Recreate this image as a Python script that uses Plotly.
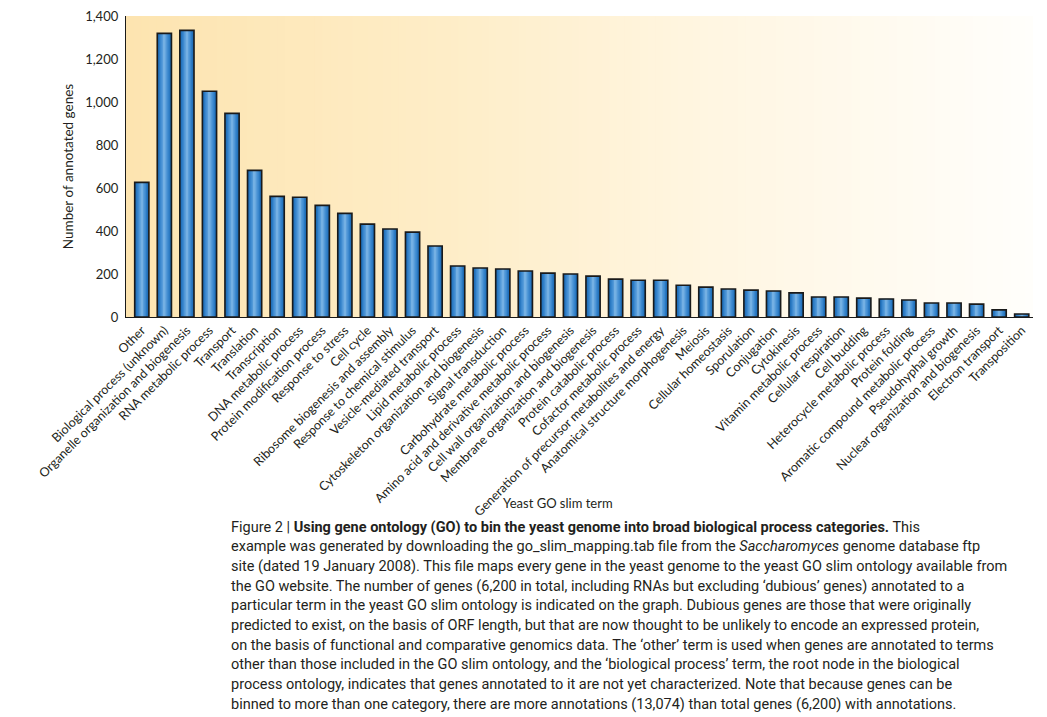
import plotly.graph_objects as go

categories = [
    "Other", "Biological process (unknown)", "Organelle organization and biogenesis",
    "RNA metabolic process", "Transport", "Translation", "Transcription",
    "DNA metabolic process", "Protein modification process", "Response to stress",
    "Cell cycle", "Ribosome biogenesis and assembly", "Response to chemical stimulus",
    "Vesicle-mediated transport", "Lipid metabolic process",
    "Cytoskeleton organization and biogenesis", "Signal transduction",
    "Carbohydrate metabolic process", "Amino acid and derivative metabolic process",
    "Cell wall organization and biogenesis", "Membrane organization and biogenesis",
    "Protein catabolic process", "Cofactor metabolic process",
    "Generation of precursor metabolites and energy",
    "Anatomical structure morphogenesis", "Meiosis", "Cellular homeostasis",
    "Sporulation", "Conjugation", "Cytokinesis", "Vitamin metabolic process",
    "Cellular respiration", "Cell budding", "Heterocycle metabolic process",
    "Protein folding", "Aromatic compound metabolic process", "Pseudohyphal growth",
    "Nuclear organization and biogenesis", "Electron transport", "Transposition",
]
gene_counts = [
    626, 1319, 1333, 1050, 947, 682, 561, 557, 519, 482,
    432, 409, 395, 330, 237, 228, 223, 214, 204, 200,
    190, 176, 171, 171, 148, 139, 130, 125, 121, 112,
    93, 93, 88, 84, 79, 65, 65, 60, 33, 14,
]
y_ticks = [0, 200, 400, 600, 800, 1000, 1200, 1400]

caption_lines = [
    "Figure 2 | <b>Using gene ontology (GO) to bin the yeast genome into broad biological process categories.</b> This",
    "example was generated by downloading the go_slim_mapping.tab file from the <i>Saccharomyces</i> genome database ftp",
    "site (dated 19 January 2008). This file maps every gene in the yeast genome to the yeast GO slim ontology available from",
    "the GO website. The number of genes (6,200 in total, including RNAs but excluding \u2018dubious\u2019 genes) annotated to a",
    "particular term in the yeast GO slim ontology is indicated on the graph. Dubious genes are those that were originally",
    "predicted to exist, on the basis of ORF length, but that are now thought to be unlikely to encode an expressed protein,",
    "on the basis of functional and comparative genomics data. The \u2018other\u2019 term is used when genes are annotated to terms",
    "other than those included in the GO slim ontology, and the \u2018biological process\u2019 term, the root node in the biological",
    "process ontology, indicates that genes annotated to it are not yet characterized. Note that because genes can be",
    "binned to more than one category, there are more annotations (13,074) than total genes (6,200) with annotations.",
]

W, H = 1047, 717
L, R, T, B = 126, 14, 16, 400
plot_w = W - L - R
plot_h = H - T - B

def px_to_paper(px, py):
    return (px - L) / plot_w, (H - B - py) / plot_h

font_family = "Lato, 'Open Sans', sans-serif"
cap_family = "Roboto, 'Liberation Sans Narrow', sans-serif"
text_color = "#231f20"

# background gradient stops (position, rgb) - decorative styling
grad_stops = [(0.0, (253, 228, 176)), (0.35, (254, 237, 199)),
              (0.65, (255, 246, 226)), (1.0, (255, 254, 251))]

def grad_color(t):
    for (p0, c0), (p1, c1) in zip(grad_stops[:-1], grad_stops[1:]):
        if p0 <= t <= p1:
            f = (t - p0) / (p1 - p0)
            c = [round(a + (b - a) * f) for a, b in zip(c0, c1)]
            return "rgb(%d,%d,%d)" % tuple(c)
    return "rgb(%d,%d,%d)" % grad_stops[-1][1]

N_STRIPS = 120
shapes = []
for i in range(N_STRIPS):
    x0 = i / N_STRIPS
    x1 = min(1.0, (i + 1.6) / N_STRIPS)
    shapes.append(dict(
        type="rect", xref="paper", yref="paper", x0=x0, x1=x1, y0=0, y1=1,
        fillcolor=grad_color((i + 0.5) / N_STRIPS), line=dict(width=0),
        layer="below",
    ))

fig = go.Figure()

layers = [
    (0.63, "#1b69b2"),
    (0.50, "#2a79c2"),
    (0.38, "#3d89cf"),
    (0.26, "#5198d7"),
    (0.15, "#64a5de"),
    (0.06, "#74b0e3"),
]
for w, c in layers:
    fig.add_trace(go.Bar(
        x=categories, y=gene_counts, width=w,
        marker=dict(color=c, line=dict(width=0)),
        hoverinfo="skip", showlegend=False,
    ))
fig.add_trace(go.Bar(
    x=categories, y=gene_counts, width=0.63,
    marker=dict(color="rgba(0,0,0,0)", line=dict(color="#1a1a1a", width=1.6)),
    showlegend=False, name="Number of annotated genes",
))

annotations = []
xp, yp = px_to_paper(558, 503)
annotations.append(dict(
    x=xp, y=yp, xref="paper", yref="paper", text="Yeast GO slim term",
    showarrow=False, xanchor="center", yanchor="middle",
    font=dict(family=font_family, size=13, color=text_color),
))
for i, line in enumerate(caption_lines):
    xp, yp = px_to_paper(229, 527 + i * 19.7)
    annotations.append(dict(
        x=xp, y=yp, xref="paper", yref="paper", text=line,
        showarrow=False, xanchor="left", yanchor="middle", align="left",
        font=dict(family=cap_family, size=14.5, color=text_color),
    ))

fig.update_layout(
    width=W, height=H,
    margin=dict(l=L, r=R, t=T, b=B, autoexpand=False),
    barmode="overlay",
    paper_bgcolor="white",
    plot_bgcolor="white",
    shapes=shapes,
    xaxis=dict(
        range=[-0.7, 39.5], tickangle=-45, showgrid=False, ticks="",
        showline=True, linecolor="#1a1a1a", linewidth=1.3,
        tickfont=dict(family=font_family, size=12.5, color=text_color),
        automargin=False,
    ),
    yaxis=dict(
        range=[0, 1400], tickvals=y_ticks, tickformat=",", showgrid=False,
        showline=True, linecolor="#1a1a1a", linewidth=1.3, ticks="",
        zeroline=False, ticklabelstandoff=4,
        tickfont=dict(family=font_family, size=13, color=text_color),
        title=dict(text="Number of annotated genes", standoff=8,
                   font=dict(family=font_family, size=13.5, color=text_color)),
        automargin=False,
    ),
    annotations=annotations,
    font=dict(family=font_family, color=text_color),
)

fig.write_html(
    "out.html",
    config={"displayModeBar": False},
    post_script="document.body.style.margin='0';",
)
